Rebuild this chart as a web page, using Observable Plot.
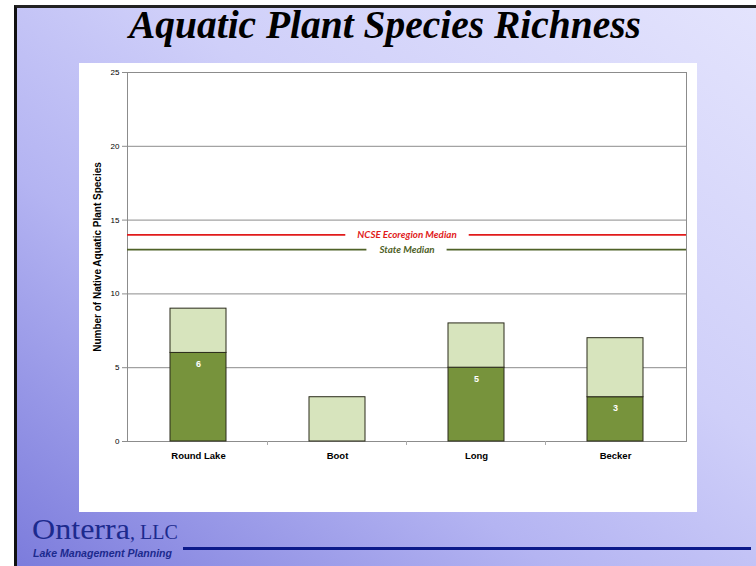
<!DOCTYPE html>
<html><head><meta charset="utf-8">
<script src="https://cdn.jsdelivr.net/npm/d3@7"></script>
<script src="https://cdn.jsdelivr.net/npm/@observablehq/plot@0.6"></script>
<style>
html,body{margin:0;padding:0;width:756px;height:566px;overflow:hidden;background:#fff;}
#slide{position:absolute;left:14px;top:5px;width:760px;height:558px;border-left:3px solid #111;border-top:3px solid #222;border-bottom:2px solid #222;
 background:linear-gradient(to top right,#7c7cdc 0%,#b4b4f2 35%,#cfcff9 60%,#e4e4fd 100%);}
#title{position:absolute;left:14px;width:742px;top:0px;text-align:center;font-family:"Liberation Serif",serif;font-weight:bold;font-style:italic;font-size:41px;line-height:48px;color:#000;white-space:nowrap;}
#title span{display:inline-block;transform-origin:center;}
#chartbox{position:absolute;left:79px;top:63px;width:618px;height:449px;background:#fff;}
#logo{position:absolute;left:32px;top:516px;height:26px;line-height:26px;color:#1c2a8e;font-family:"Liberation Serif",serif;white-space:nowrap;}
#logo .big{font-size:30px;}
#logo .llc{font-size:20px;}
#tag{position:absolute;left:33px;top:547px;line-height:12px;font-family:"Liberation Sans",sans-serif;font-weight:bold;font-style:italic;font-size:10.5px;color:#1c2a8e;white-space:nowrap;}
#tag span{display:inline-block;transform-origin:left;}
#rule{position:absolute;left:183px;top:547px;width:568px;height:3px;background:#0c1a8a;}
</style></head>
<body>
<div id="slide"></div>
<div id="title"><span>Aquatic Plant Species Richness</span></div>
<div id="chartbox"></div>
<div id="logo"><span class="big">Onterra</span><span class="llc">, LLC</span></div>
<div id="tag"><span>Lake Management Planning</span></div>
<div id="rule"></div>
<script>
const lakes = ["Round Lake", "Boot", "Long", "Becker"];
const darkValues = [6, 0, 5, 3];
const lightValues = [3, 3, 3, 4];
const yTicks = [0, 5, 10, 15, 20, 25];
const medianNames = ["NCSE Ecoregion Median", "State Median"];
const medianValues = [14, 13];
const medianColors = ["#e11b1b", "#4f6228"];
const yLabel = "Number of Native Aquatic Plant Species";

const stacked = [];
lakes.forEach((l, i) => {
  stacked.push({lake: l, series: "dark", value: darkValues[i]});
  stacked.push({lake: l, series: "light", value: lightValues[i]});
});
const darkLabels = lakes.map((l, i) => ({lake: l, value: darkValues[i]})).filter(d => d.value > 0);
const medians = medianNames.map((n, i) => ({name: n, value: medianValues[i], color: medianColors[i]}));

const boundaryTicks = (index, scales, values, dimensions) => {
  const g = d3.create("svg:g");
  const x = scales.x, y = scales.y;
  const step = x.step(), bw = x.bandwidth();
  lakes.slice(1).forEach(l => {
    const px = x(l) - (step - bw) / 2;
    g.append("line").attr("x1", px).attr("x2", px).attr("y1", y(0)).attr("y2", y(0) + 4)
      .attr("stroke", "#aaa");
  });
  return g.node();
};

const chart = Plot.plot({
  width: 618, height: 449,
  marginLeft: 48, marginRight: 11, marginTop: 9, marginBottom: 71,
  style: {fontFamily: "Liberation Sans, Arial, sans-serif", background: "transparent", color: "#000"},
  x: {domain: lakes, paddingInner: 0.6, paddingOuter: 0.3, label: null, tickSize: 0, tickPadding: 11},
  y: {domain: [0, 25], ticks: yTicks, tickSize: 5, tickPadding: 3, label: null, tickFormat: d3.format("d")},
  color: {domain: ["dark", "light"], range: ["#77933c", "#d7e4bd"]},
  marks: [
    Plot.ruleY(yTicks, {stroke: "#8c8c8c", strokeWidth: 1}),
    Plot.frame({stroke: "#8c8c8c"}),
    boundaryTicks,
    Plot.ruleY(medians, {y: "value", stroke: "color", strokeWidth: 1.6}),
    Plot.text(medians, {y: "value", text: "name", fill: "color", fontStyle: "italic", fontWeight: "bold", fontSize: 9.8, fontFamily: "Lato, sans-serif"}),
    Plot.barY(stacked, {x: "lake", y: "value", fill: "series", stroke: "#2a2a1a", strokeWidth: 1, filter: d => d.value > 0}),
    Plot.text(darkLabels, {x: "lake", y: "value", text: d => String(d.value), dy: 11, fill: "white", fontWeight: "bold", fontSize: 9}),
    Plot.text([yLabel], {frameAnchor: "left", rotate: -90, dx: -30, textAnchor: "middle", text: d => d, fontWeight: "bold", fontSize: 10})
  ]
});
document.getElementById("chartbox").appendChild(chart);

d3.select(chart).selectAll("g[aria-label='y-axis tick label'] text, g[aria-label='y-axis'] text").attr("font-size", 8);
d3.select(chart).selectAll("g[aria-label='y-axis tick'] path, g[aria-label='y-axis'] path, g[aria-label='y-axis'] line").attr("stroke", "#8c8c8c");
d3.select(chart).selectAll("g[aria-label='x-axis tick label'] text, g[aria-label='x-axis'] text").attr("font-weight", "bold").attr("font-size", 9.5);

d3.select(chart).selectAll("text").each(function() {
  if (medianNames.includes(this.textContent)) {
    const b = this.getBBox();
    const tr = this.getAttribute("transform");
    const r = document.createElementNS("http://www.w3.org/2000/svg", "rect");
    r.setAttribute("x", b.x - 12); r.setAttribute("y", b.y + 1);
    r.setAttribute("width", b.width + 24); r.setAttribute("height", b.height - 2);
    r.setAttribute("fill", "white");
    if (tr) r.setAttribute("transform", tr);
    this.parentNode.insertBefore(r, this);
  }
});

function fitWidth(el, target, origin) {
  const w = el.getBoundingClientRect().width;
  el.style.transformOrigin = origin;
  el.style.transform = `scaleX(${target / w})`;
  return w;
}
fitWidth(document.querySelector("#title span"), 512, "center");
const lg = document.querySelector("#logo .big");
lg.style.display = "inline-block";
const lw = fitWidth(lg, 98, "left");
lg.style.marginRight = (98 - lw) + "px";
fitWidth(document.querySelector("#tag span"), 139, "left");
</script>
</body></html>
